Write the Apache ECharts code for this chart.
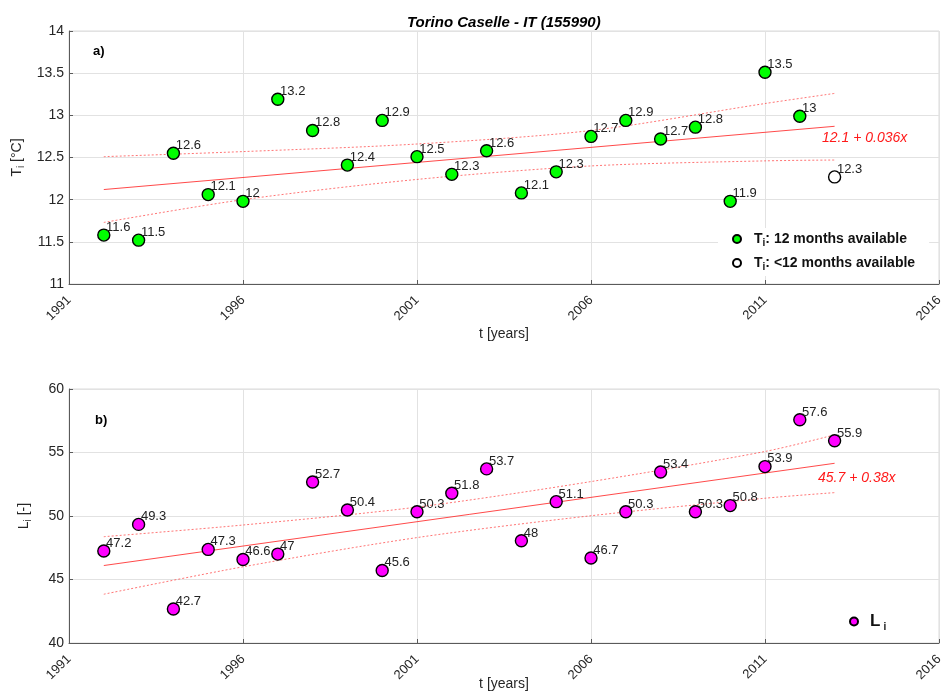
<!DOCTYPE html>
<html><head><meta charset="utf-8">
<script src="https://cdn.jsdelivr.net/npm/echarts@6/dist/echarts.min.js"></script>
<style>html,body{margin:0;padding:0;background:#fff}#c{width:946px;height:695px}</style>
</head><body><div id="c"></div>
<script>
// ---- data ----
const tYears = [1992,1993,1994,1995,1996,1997,1998,1999,2000,2001,2002,2003,2004,2005,2006,2007,2008,2009,2010,2011,2012];
const tValues = [11.58,11.52,12.55,12.06,11.98,13.19,12.82,12.41,12.94,12.51,12.30,12.58,12.08,12.33,12.75,12.94,12.72,12.86,11.98,13.51,12.99];
const tLabels = ['11.6','11.5','12.6','12.1','12','13.2','12.8','12.4','12.9','12.5','12.3','12.6','12.1','12.3','12.7','12.9','12.7','12.8','11.9','13.5','13'];
const tPartYears = [2013];
const tPartValues = [12.27];
const tPartLabels = ['12.3'];

const lYears = [1992,1993,1994,1995,1996,1997,1998,1999,2000,2001,2002,2003,2004,2005,2006,2007,2008,2009,2010,2011,2012,2013];
const lValues = [47.24,49.34,42.68,47.37,46.58,47.0,52.68,50.47,45.71,50.34,51.79,53.71,48.05,51.13,46.69,50.34,53.47,50.34,50.82,53.89,57.58,55.92];
const lLabels = ['47.2','49.3','42.7','47.3','46.6','47','52.7','50.4','45.6','50.3','51.8','53.7','48','51.1','46.7','50.3','53.4','50.3','50.8','53.9','57.6','55.9'];

const fitYears = [1992, 2013];
const tFit = [12.12, 12.87];
const lFit = [46.1, 54.15];

const bandYears = [1992, 1996, 2001, 2006, 2011, 2013];
const tBandUpper = [12.51, 12.57, 12.66, 12.82, 13.14, 13.26];
const tBandLower = [11.73, 12.00, 12.24, 12.40, 12.46, 12.47];
const lBandUpper = [48.37, 49.29, 50.70, 52.71, 55.08, 56.39];
const lBandLower = [43.84, 46.00, 48.30, 50.02, 51.40, 51.84];

const xTicks = [1991, 1996, 2001, 2006, 2011, 2016];
const tTicks = [11, 11.5, 12, 12.5, 13, 13.5, 14];
const lTicks = [40, 45, 50, 55, 60];

const tEquation = '12.1 + 0.036x';
const lEquation = '45.7 + 0.38x';
const title = 'Torino Caselle - IT (155990)';

// ---- chart ----
const FONT = '"Liberation Sans", Arial, sans-serif';
const AX = '#262626';
const pairs = (xs, ys) => xs.map((x, i) => [x, ys[i]]);

function xAxisCfg(gi, gap) {
  return {
    type: 'value', gridIndex: gi, min: xTicks[0], max: xTicks[xTicks.length-1], interval: 5,
    name: 't [years]', nameLocation: 'middle', nameGap: gap, nameMoveOverlap: false,
    nameTextStyle: {color: AX, fontSize: 14, fontFamily: FONT},
    axisLine: {show: true, onZero: false, lineStyle: {color: '#5a5a5a', width: 1}},
    axisTick: {show: true, inside: true, length: 4, lineStyle: {color: '#5a5a5a'}},
    axisLabel: {rotate: 45, color: AX, fontSize: 13, fontFamily: FONT, margin: 14,
      formatter: v => String(v)},
    splitLine: {show: true, lineStyle: {color: '#e2e2e2', width: 1}}
  };
}
function yAxisCfg(gi, ticks, nameRich) {
  return {
    type: 'value', gridIndex: gi, min: ticks[0], max: ticks[ticks.length-1], interval: ticks[1]-ticks[0],
    name: nameRich, nameLocation: 'middle', nameGap: 36, nameRotate: 90,
    nameTextStyle: {color: AX, fontSize: 14, fontFamily: FONT,
      rich: {a: {fontSize: 14, color: AX, fontFamily: FONT}, s: {fontSize: 10, color: AX, fontFamily: FONT, padding: [8,0,0,0]}}},
    axisLine: {show: true, onZero: false, lineStyle: {color: '#5a5a5a', width: 1}},
    axisTick: {show: true, inside: true, length: 4, lineStyle: {color: '#5a5a5a'}},
    axisLabel: {color: AX, fontSize: 14, fontFamily: FONT, margin: 5, formatter: v => String(v)},
    splitLine: {show: true, lineStyle: {color: '#e2e2e2', width: 1}}
  };
}
function pointLabel(labels) {
  return {show: true, position: [9, -1], align: 'left', verticalAlign: 'middle',
    color: '#222', fontSize: 13, fontFamily: FONT, formatter: p => labels[p.dataIndex]};
}
const fitLine = (gi, ys) => ({type: 'line', xAxisIndex: gi, yAxisIndex: gi, data: pairs(fitYears, ys),
  symbol: 'none', silent: true, lineStyle: {color: '#ff2a2a', width: 1, opacity: 0.85}, z: 3});
const bandLine = (gi, ys) => ({type: 'line', xAxisIndex: gi, yAxisIndex: gi, data: pairs(bandYears, ys),
  symbol: 'none', silent: true, smooth: 0.3, lineStyle: {color: '#ff3b3b', width: 1, type: [2, 2], opacity: 0.7}, z: 3});

const chart = echarts.init(document.getElementById('c'), null, {renderer: 'canvas'});
chart.setOption({
  animation: false,
  backgroundColor: '#fff',
  textStyle: {fontFamily: FONT},
  grid: [
    {left: 69, right: 7, top: 31, height: 253, show: true, borderColor: '#dadada', borderWidth: 1,
     backgroundColor: 'transparent', containLabel: false, outerBoundsMode: 'none'},
    {left: 69, right: 7, top: 389, height: 254, show: true, borderColor: '#dadada', borderWidth: 1,
     backgroundColor: 'transparent', containLabel: false, outerBoundsMode: 'none'}
  ],
  xAxis: [xAxisCfg(0, 43), xAxisCfg(1, 34)],
  yAxis: [
    yAxisCfg(0, tTicks, '{a|T}{s|i}{a| [°C]}'),
    yAxisCfg(1, lTicks, '{a|L}{s|i}{a| [-]}')
  ],
  legend: [
    {
      orient: 'vertical', left: 718, top: 228, itemWidth: 8, itemHeight: 8, itemGap: 8,
      backgroundColor: '#fff', padding: [4, 14, 4, 14],
      data: ['T12', 'Tlt12'],
      formatter: n => n === 'T12' ? '{g|}{b|T}{s|i}{b|: 12 months available}' : '{g|}{b|T}{s|i}{b|: <12 months available}',
      textStyle: {rich: {
        g: {width: 8},
        b: {fontSize: 14, fontWeight: 'bold', color: '#111', fontFamily: FONT},
        s: {fontSize: 10, fontWeight: 'bold', color: '#111', fontFamily: FONT, padding: [8,0,0,0]}
      }}
    },
    {
      orient: 'vertical', left: 839, top: 609, itemWidth: 8, itemHeight: 8,
      backgroundColor: '#fff', padding: [4, 14, 4, 10],
      data: ['L'],
      formatter: () => '{g|}{b|L}{s|i}',
      textStyle: {rich: {
        g: {width: 7},
        b: {fontSize: 17, fontWeight: 'bold', color: '#111', fontFamily: FONT},
        s: {fontSize: 10, fontWeight: 'bold', color: '#111', fontFamily: FONT, padding: [11,0,0,3]}
      }}
    }
  ],
  graphic: [
    {type: 'text', left: 407, top: 15, style: {text: title, font: 'italic bold 15px ' + FONT, fill: '#000'}, z: 10},
    {type: 'text', left: 93, top: 45, style: {text: 'a)', font: 'bold 13px ' + FONT, fill: '#000'}},
    {type: 'text', left: 95, top: 414, style: {text: 'b)', font: 'bold 13px ' + FONT, fill: '#000'}},
    {type: 'text', left: 822, top: 131, style: {text: tEquation, font: 'italic 14px ' + FONT, fill: '#ff1a1a'}},
    {type: 'text', left: 818, top: 471, style: {text: lEquation, font: 'italic 14px ' + FONT, fill: '#ff1a1a'}}
  ],
  series: [
    fitLine(0, tFit), bandLine(0, tBandUpper), bandLine(0, tBandLower),
    {name: 'T12', type: 'scatter', xAxisIndex: 0, yAxisIndex: 0, data: pairs(tYears, tValues),
     symbol: 'circle', symbolSize: 12, z: 5,
     itemStyle: {color: '#00ff00', borderColor: '#000', borderWidth: 1.4, opacity: 1},
     label: pointLabel(tLabels)},
    {name: 'Tlt12', type: 'scatter', xAxisIndex: 0, yAxisIndex: 0, data: pairs(tPartYears, tPartValues),
     symbol: 'circle', symbolSize: 12, z: 5,
     itemStyle: {color: '#fff', borderColor: '#000', borderWidth: 1.4, opacity: 1},
     label: pointLabel(tPartLabels)},
    fitLine(1, lFit), bandLine(1, lBandUpper), bandLine(1, lBandLower),
    {name: 'L', type: 'scatter', xAxisIndex: 1, yAxisIndex: 1, data: pairs(lYears, lValues),
     symbol: 'circle', symbolSize: 12, z: 5,
     itemStyle: {color: '#ff00ff', borderColor: '#000', borderWidth: 1.4, opacity: 1},
     label: pointLabel(lLabels)}
  ]
});
</script></body></html>
